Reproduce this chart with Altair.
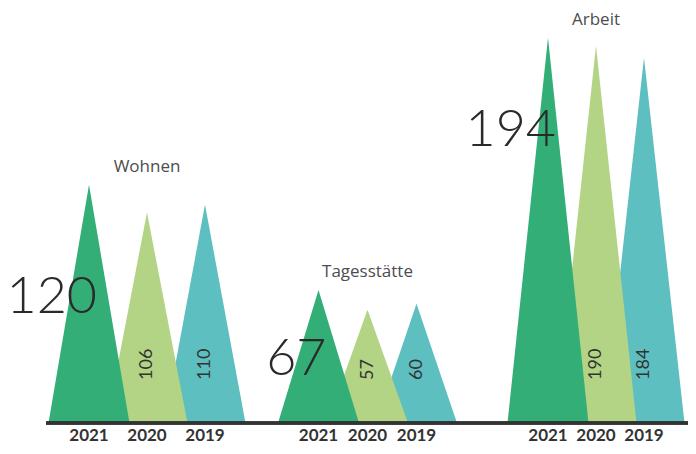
import altair as alt
import pandas as pd

# ---- data ----
categories = ["Wohnen", "Tagesstätte", "Arbeit"]
years = ["2021", "2020", "2019"]
values_2021 = [120, 67, 194]
values_2020 = [106, 57, 190]
values_2019 = [110, 60, 184]

# ---- layout / style constants ----
W, H = 642, 415
X_MAX = 12.84           # x domain (1 unit = 50 px)
Y_MAX = 209
X0, GROUP, HALF = 0.86, 4.59, 0.81
group_step = [1.16, 0.98, 0.96]
colors = {"2021": "#33AE77", "2020": "#B3D485", "2019": "#5DBFBF"}
big_label_frac = [0.53, 0.48, 0.76]
FONT = "Lato"

series = {"2021": values_2021, "2020": values_2020, "2019": values_2019}

tri_rows, peak_rows = [], []
for g, cat in enumerate(categories):
    for k, yr in enumerate(years):
        v = series[yr][g]
        c = X0 + g * GROUP + k * group_step[g]
        tid = f"{cat}-{yr}"
        tri_rows += [
            {"tid": tid, "cat": cat, "year": yr, "px": c - HALF, "py": 0},
            {"tid": tid, "cat": cat, "year": yr, "px": c, "py": v},
            {"tid": tid, "cat": cat, "year": yr, "px": c + HALF, "py": 0},
        ]
        peak_rows.append({"cat": cat, "year": yr, "x": c, "value": v,
                          "label": str(v), "big_y": v * big_label_frac[g],
                          "top": series["2021"][g]})
tri = pd.DataFrame(tri_rows)
peaks = pd.DataFrame(peak_rows)

xs = alt.Scale(domain=[0, X_MAX], nice=False, zero=False)
ys = alt.Scale(domain=[0, Y_MAX], nice=False)

layers = []
for yr in ["2019", "2020", "2021"]:
    layers.append(
        alt.Chart(tri[tri["year"] == yr])
        .mark_area(color=colors[yr], interpolate="linear", opacity=1)
        .encode(
            x=alt.X("px:Q", scale=xs, axis=None),
            y=alt.Y("py:Q", scale=ys, axis=None, stack=None),
            detail="tid:N",
        )
    )

baseline = alt.Chart(peaks).mark_rule(color="#333333", strokeWidth=2.5).encode(
    x=alt.value(0), x2=alt.value(W + 10), y=alt.value(H)
)

year_text = alt.Chart(peaks).mark_text(
    font=FONT, fontSize=17, fontWeight="bold", color="#333333",
    baseline="alphabetic", dy=18
).encode(x=alt.X("x:Q", scale=xs), y=alt.value(H), text="year:N")

big_text = alt.Chart(peaks).transform_filter(alt.datum.year == "2021").mark_text(
    font=FONT, fontSize=52, fontWeight=300, color="#2A2A2A",
    align="right", baseline="middle", dx=8
).encode(x=alt.X("x:Q", scale=xs), y=alt.Y("big_y:Q", scale=ys), text="label:N")

inner_text = alt.Chart(peaks).transform_filter(alt.datum.year != "2021").mark_text(
    font=FONT, fontSize=18, color="#333333", angle=270,
    align="left", baseline="middle"
).encode(x=alt.X("x:Q", scale=xs), y=alt.value(H - 43), text="label:N")

cat_text = alt.Chart(peaks).transform_filter(alt.datum.year == "2020").mark_text(
    font="Open Sans", fontSize=17, color="#4D4D4D", baseline="middle", dy=-18
).encode(x=alt.X("x:Q", scale=xs), y=alt.Y("top:Q", scale=ys), text="cat:N")

chart = alt.layer(*layers, baseline, year_text, big_text, inner_text, cat_text).properties(
    width=W, height=H,
    padding={"left": 38, "top": 0, "right": 0, "bottom": 23},
    autosize=alt.AutoSizeParams(type="none"),
).configure_view(stroke=None)

chart.save("out.html", embed_options={"renderer": "svg", "actions": False})
